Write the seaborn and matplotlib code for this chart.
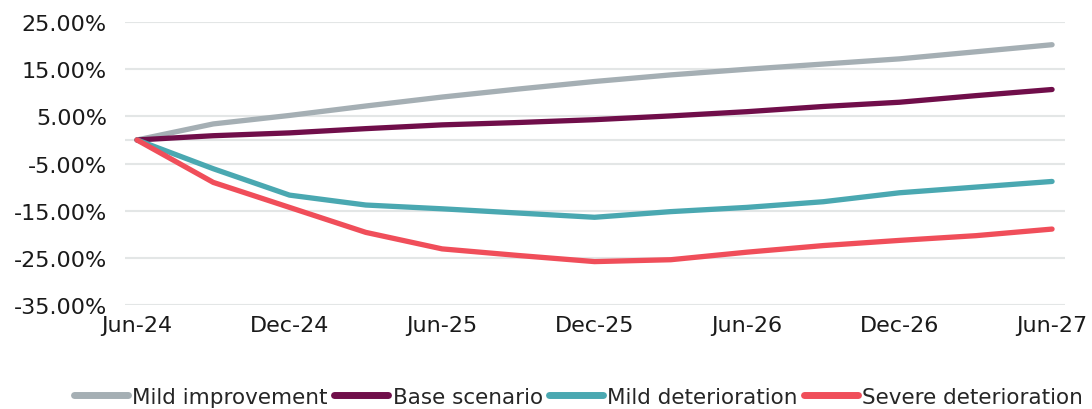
import pandas as pd
import matplotlib.pyplot as plt
import seaborn as sns

# Quarterly scenario paths (% change from Jun-24)
quarters = ['Jun-24', 'Sep-24', 'Dec-24', 'Mar-25', 'Jun-25', 'Sep-25', 'Dec-25',
            'Mar-26', 'Jun-26', 'Sep-26', 'Dec-26', 'Mar-27', 'Jun-27']
mild_improvement = [0.0, 3.4, 5.2, 7.2, 9.1, 10.8, 12.4, 13.8, 15.0, 16.1, 17.2, 18.7, 20.2]
base_scenario = [0.0, 0.9, 1.5, 2.4, 3.2, 3.7, 4.3, 5.1, 6.0, 7.1, 8.0, 9.4, 10.7]
mild_deterioration = [0.0, -6.1, -11.7, -13.8, -14.6, -15.5, -16.4, -15.2, -14.3, -13.1, -11.2, -10.0, -8.8]
severe_deterioration = [0.0, -9.0, -14.3, -19.6, -23.1, -24.5, -25.8, -25.4, -23.8, -22.4, -21.3, -20.3, -18.9]

scenarios = ['Mild improvement', 'Base scenario', 'Mild deterioration', 'Severe deterioration']
colors = ['#A5AFB4', '#700E4A', '#4AA8B1', '#F04E5A']
y_ticks = [-35, -25, -15, -5, 5, 15, 25]
x_labels = ['Jun-24', 'Dec-24', 'Jun-25', 'Dec-25', 'Jun-26', 'Dec-26', 'Jun-27']

# Long-form DataFrame for seaborn
df = pd.DataFrame({
    'Quarter': quarters * 4,
    'Pos': list(range(len(quarters))) * 4,
    'Change': mild_improvement + base_scenario + mild_deterioration + severe_deterioration,
    'Scenario': [s for s in scenarios for _ in quarters],
})

sns.set_theme(style='white')
plt.rcParams['font.family'] = ['DejaVu Sans']

fig = plt.figure(figsize=(10.92, 4.10), dpi=100)
ax = fig.add_axes([0.1145, 0.2537, 0.8608, 0.690])

grid_color = '#E3E6E6'
for t in y_ticks:
    ax.axhline(t, color=grid_color, lw=1.5, zorder=0)
ax.axhline(0, color=grid_color, lw=1.5, zorder=0)

sns.lineplot(data=df, x='Pos', y='Change', hue='Scenario', palette=colors,
             hue_order=scenarios, lw=3.8, solid_capstyle='round', ax=ax, legend=False)

ax.set_xlim(-0.157, 12.17)
ax.set_ylim(-35, 25)
ax.set_yticks(y_ticks)
ax.set_yticklabels([f'{t:.2f}%' for t in y_ticks])
ax.set_xticks([quarters.index(q) for q in x_labels])
ax.set_xticklabels(x_labels)
ax.tick_params(axis='y', length=0, pad=13, labelsize=16, colors='#1a1a1a')
ax.tick_params(axis='x', length=0, pad=7, labelsize=16, colors='#1a1a1a')
ax.set_xlabel('')
ax.set_ylabel('')
for s in ax.spines.values():
    s.set_visible(False)

handles = [plt.Line2D([], [], color=c, lw=5, solid_capstyle='round') for c in colors]
fig.legend(handles, scenarios, loc='center', bbox_to_anchor=(0.53, 0.03), ncol=4,
           frameon=False, fontsize=15.5, handlelength=2.5, handletextpad=0.2,
           columnspacing=0.3, borderpad=0, borderaxespad=0)

fig.savefig('out.png', dpi=100)
